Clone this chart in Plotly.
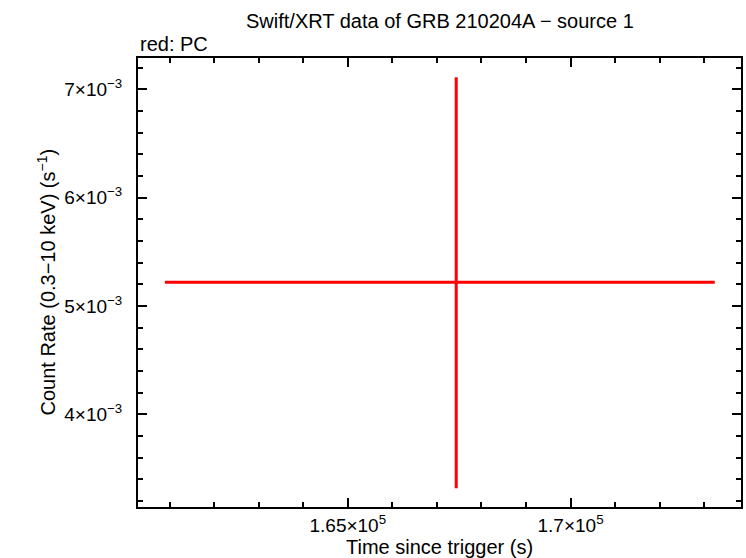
import plotly.graph_objects as go

# Data
time_s = [167434]
time_err_plus = [5803]
time_err_minus = [6539]
rate = [5.219e-3]
rate_err_plus = [1.892e-3]
rate_err_minus = [1.902e-3]

x_tickvals = [165000, 170000]
x_ticktext = ["1.65×10<sup>5</sup>", "1.7×10<sup>5</sup>"]
y_tickvals = [0.004, 0.005, 0.006, 0.007]
y_ticktext = ["4×10<sup>−3</sup>", "5×10<sup>−3</sup>", "6×10<sup>−3</sup>", "7×10<sup>−3</sup>"]

FONT = "Liberation Sans, Arial, sans-serif"

fig = go.Figure()
fig.add_trace(go.Scatter(
    x=time_s, y=rate, mode="markers",
    marker=dict(size=1, color="#ff0000", opacity=0),
    error_x=dict(type="data", symmetric=False, array=time_err_plus,
                 arrayminus=time_err_minus, color="#ff0000", thickness=3, width=0),
    error_y=dict(type="data", symmetric=False, array=rate_err_plus,
                 arrayminus=rate_err_minus, color="#ff0000", thickness=3, width=0),
    showlegend=False, hoverinfo="skip",
))

axis_common = dict(
    showline=True, linecolor="black", linewidth=2, mirror="allticks",
    ticks="inside", ticklen=9, tickwidth=2, tickcolor="black",
    showgrid=False, zeroline=False,
    tickfont=dict(family=FONT, size=19, color="black"),
)

fig.update_xaxes(
    range=[160291, 173826], tickmode="array", tickvals=x_tickvals, ticktext=x_ticktext,
    minor=dict(tickmode="linear", tick0=0, dtick=1000, ticks="inside", ticklen=5,
               tickwidth=2, tickcolor="black"),
    ticklabelstandoff=0,
    **axis_common,
)
fig.update_yaxes(
    range=[3.144e-3, 7.289e-3], tickmode="array", tickvals=y_tickvals, ticktext=y_ticktext,
    minor=dict(tickmode="linear", tick0=0, dtick=0.0002, ticks="inside", ticklen=5,
               tickwidth=2, tickcolor="black"),
    ticklabelstandoff=10,
    **axis_common,
)

fig.update_layout(
    width=746, height=558,
    margin=dict(l=138, r=3, t=58, b=51),
    plot_bgcolor="white", paper_bgcolor="white",
    font=dict(family=FONT, size=19, color="black"),
    annotations=[
        dict(text="Swift/XRT data of GRB 210204A − source 1", xref="paper", yref="paper",
             x=0.5, y=1, yshift=37, xanchor="center", yanchor="middle", showarrow=False,
             font=dict(family=FONT, size=20)),
        dict(text="red: PC", xref="paper", yref="paper", x=0, y=1, yshift=14,
             xanchor="left", yanchor="middle", showarrow=False,
             font=dict(family=FONT, size=20)),
        dict(text="Time since trigger (s)", xref="paper", yref="paper", x=0.5, y=0,
             yshift=-40, xanchor="center", yanchor="middle", showarrow=False,
             font=dict(family=FONT, size=20)),
        dict(text="Count Rate (0.3−10 keV) (s<sup>−1</sup>)", xref="paper", yref="paper",
             x=0, y=0.5, xshift=-92, xanchor="center", yanchor="middle", textangle=-90,
             showarrow=False, font=dict(family=FONT, size=20)),
    ],
)

fig.write_html(
    "out.html",
    config={"displayModeBar": False, "staticPlot": True},
    post_script="document.body.style.margin='0';document.body.style.overflow='hidden';",
)
